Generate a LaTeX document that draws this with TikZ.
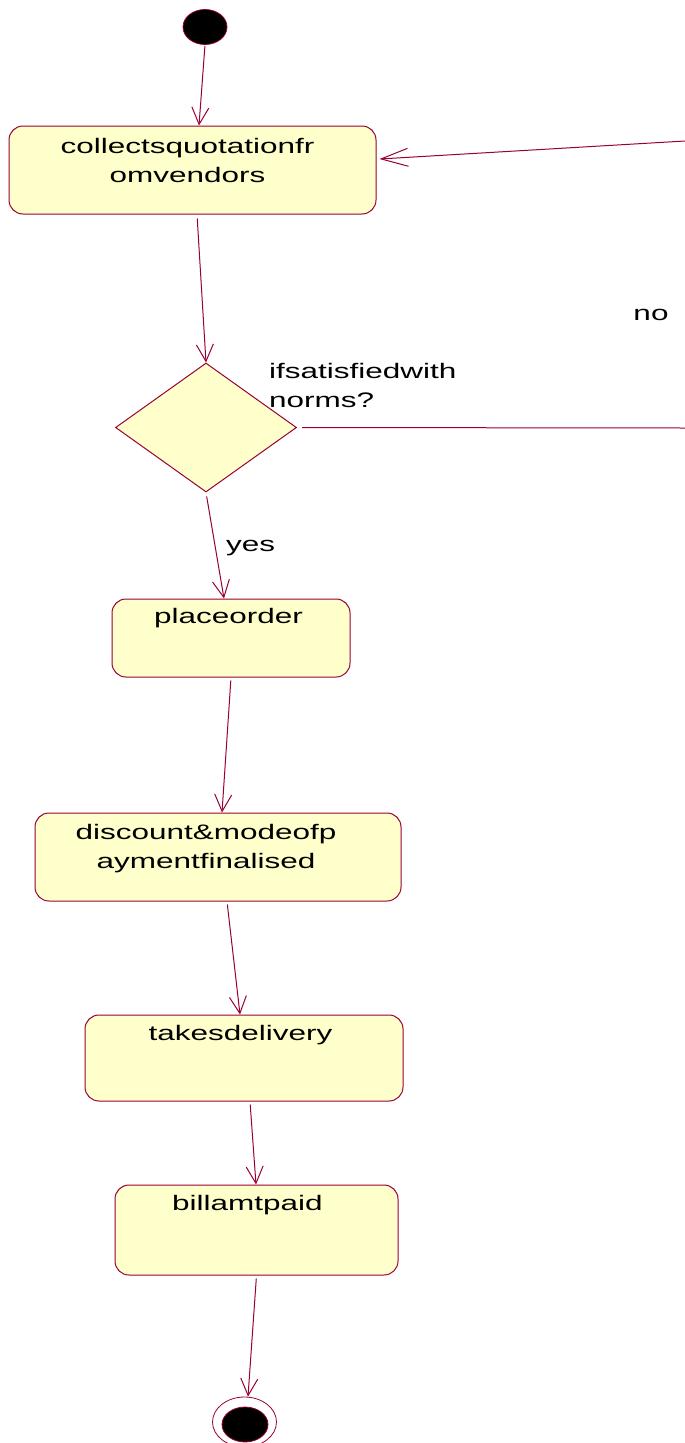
\documentclass[tikz,border=0pt]{standalone}
\usepackage{fontspec}
\usetikzlibrary{shapes.geometric,arrows.meta,calc}
\newfontfamily\dfont[FakeStretch=1.5]{Liberation Sans}
\definecolor{umlline}{RGB}{153,0,51}
\definecolor{umlfill}{RGB}{255,255,204}
\tikzset{
  activity/.style={draw=umlline, fill=umlfill, line width=1pt, rounded corners=14pt, inner sep=0pt},
  decision/.style={draw=umlline, fill=umlfill, line width=1pt, diamond, inner sep=0pt},
  txt/.style={font=\dfont\fontsize{21}{29}\selectfont, inner sep=0pt, text=black},
  flow/.style={draw=umlline, line width=1pt, -{Straight Barb[length=17pt,width=17pt,line width=1pt]}},
  flowh/.style={draw=umlline, line width=1pt, -{Straight Barb[length=27pt,width=18pt,line width=1pt]}},
  plain/.style={draw=umlline, line width=1pt},
}
\begin{document}
\begin{tikzpicture}[x=1pt,y=-1pt]
\useasboundingbox (0,0) rectangle (685,1443);

% initial state
\node[ellipse, draw=umlline, fill=black, line width=0.8pt, minimum width=44pt, minimum height=35pt, inner sep=0pt] (start) at (205,27) {};

% activities
\node[activity, minimum width=367pt, minimum height=88pt] (collect) at (192.5,170) {};
\node[txt, align=center, anchor=north] (collectT) at (187.5,138) {collectsquotationfr\\omvendors};

\node[decision, minimum width=181pt, minimum height=129pt, aspect=1.4] (check) at (206,427.5) {};
\node[txt, align=left, anchor=north west] (checkT) at (269,363) {ifsatisfiedwith\\norms?};

\node[activity, minimum width=238pt, minimum height=78pt] (order) at (231,638) {};
\node[txt, anchor=base] (orderT) at (228.5,623) {placeorder};

\node[activity, minimum width=366pt, minimum height=88pt] (discount) at (218,857) {};
\node[txt, align=center, anchor=north] (discountT) at (206,824) {discount\&modeofp\\aymentfinalised};

\node[activity, minimum width=318pt, minimum height=86pt] (delivery) at (244,1058) {};
\node[txt, anchor=base] (deliveryT) at (240.5,1040) {takesdelivery};

\node[activity, minimum width=283pt, minimum height=90pt] (bill) at (256.5,1230) {};
\node[txt, anchor=base] (billT) at (247.5,1210) {billamtpaid};

% final state
\node[ellipse, draw=umlline, line width=0.8pt, minimum width=64pt, minimum height=50pt, inner sep=0pt] (endring) at (244.5,1422) {};
\node[ellipse, draw=umlline, fill=black, line width=0.8pt, minimum width=46pt, minimum height=35pt, inner sep=0pt] (enddot) at (245,1424.5) {};

% loop-back coordinates at the right edge
\coordinate (noOut) at (685,428);
\coordinate (noIn) at (685,141);

% flows
\draw[flow, shorten <=1pt] (start.south) -- ([xshift=6.5pt]collect.north);
\draw[flow, shorten <=4pt] ([xshift=4.5pt]collect.south) -- (check.north);
\draw[flow, shorten <=4pt] (check.south) -- ([xshift=-7pt]order.north);
\node[txt, anchor=base west] (yesL) at (226,551) {yes};
\draw[flow, shorten <=3pt] (order.south) -- ([xshift=4pt]discount.north);
\draw[flow, shorten <=3pt] ([xshift=9pt]discount.south) -- ([xshift=-4pt]delivery.north);
\draw[flow, shorten <=3pt] ([xshift=6pt]delivery.south) -- ([xshift=-0.5pt]bill.north);
\draw[flow, shorten <=3pt] (bill.south) -- ([xshift=3.5pt]endring.north);

\draw[plain, shorten <=5pt] (check.east) -- (noOut);
\draw[flowh] (noIn) -- ([xshift=3pt,yshift=11pt]collect.east);
\node[txt, anchor=base] (noL) at (651,320) {no};
\end{tikzpicture}
\end{document}
